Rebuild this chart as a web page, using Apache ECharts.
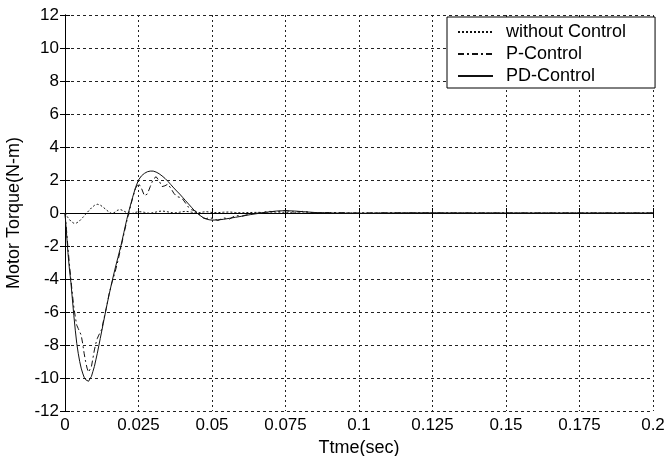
<!DOCTYPE html>
<html>
<head>
<meta charset="utf-8">
<script src="https://cdn.jsdelivr.net/npm/echarts@6/dist/echarts.min.js"></script>
<style>html,body{margin:0;padding:0;background:#fff}#c{width:670px;height:456px}</style>
</head>
<body>
<div id="c"></div>
<script>
var time = [0,0.0005,0.001,0.0015,0.002,0.0025,0.003,0.0035,0.004,0.0045,0.005,0.0055,0.006,0.0065,0.007,0.0075,0.008,0.0085,0.009,0.0095,0.010,0.0105,0.011,0.0115,0.012,0.0125,0.013,
0.014,0.015,0.016,0.017,0.018,0.019,0.020,0.021,0.022,0.023,0.024,0.025,0.026,0.027,0.028,0.029,0.030,0.031,0.032,0.033,0.034,0.035,0.036,0.037,0.038,0.039,0.040,0.041,0.042,0.043,0.044,0.045,0.046,0.047,0.048,0.049,0.050,
0.052,0.054,0.056,0.058,0.060,0.063,0.066,0.069,0.072,0.075,0.078,0.081,0.085,0.09,0.1,0.11,0.12,0.14,0.16,0.18,0.2];

var withoutControl = [0,-0.15,-0.28,-0.4,-0.5,-0.57,-0.62,-0.63,-0.6,-0.55,-0.47,-0.38,-0.28,-0.18,-0.08,0.02,0.12,0.22,0.31,0.39,0.46,0.51,0.53,0.52,0.48,0.42,0.35,
0.2,0.05,-0.04,0.05,0.18,0.2,0.12,0.02,-0.05,-0.02,0.04,0.08,0.07,0.04,0.0,-0.02,0.02,0.06,0.1,0.12,0.1,0.07,0.03,0.0,0.02,0.05,0.08,0.1,0.08,0.05,0.02,0.0,0.03,0.06,0.08,0.06,0.03,
0.02,0.05,0.06,0.03,0.01,0.03,0.04,0.01,0.0,0.02,0.01,0.0,0.01,0.0,0.0,0.0,0.0,0.0,0.0,0.0,0.0];

var pControl = [0,-1.0,-2.1,-3.1,-4.0,-4.9,-5.7,-6.3,-6.8,-7.0,-7.1,-7.4,-7.9,-8.5,-9.0,-9.4,-9.65,-9.6,-9.3,-8.8,-8.3,-7.9,-7.6,-7.4,-7.3,-7.05,-6.6,
-5.8,-4.9,-4.2,-3.6,-2.9,-2.1,-1.3,-0.5,0.2,0.9,1.5,1.8,1.5,1.05,1.15,1.6,2.05,2.2,1.95,1.6,1.65,1.75,1.5,1.2,1.0,0.95,0.85,0.6,0.35,0.2,0.15,0.05,-0.15,-0.3,-0.35,-0.28,-0.32,
-0.45,-0.3,-0.36,-0.15,-0.2,-0.05,0.0,0.1,0.08,0.15,0.05,0.1,0.0,0.03,0.0,0.01,0.0,0.0,0.0,0.0,0.0];

var pdControl = [0,-1.2,-2.4,-3.4,-4.2,-5.2,-6.2,-7.1,-7.9,-8.5,-9.0,-9.4,-9.7,-9.95,-10.1,-10.2,-10.2,-10.1,-9.9,-9.6,-9.3,-8.9,-8.5,-8.05,-7.6,-7.15,-6.7,
-5.8,-4.95,-4.15,-3.4,-2.7,-2.0,-1.2,-0.4,0.3,0.95,1.55,2.0,2.25,2.4,2.5,2.54,2.54,2.48,2.38,2.25,2.1,1.92,1.72,1.52,1.33,1.15,0.95,0.75,0.55,0.35,0.15,-0.02,-0.16,-0.28,-0.36,-0.41,-0.43,
-0.42,-0.38,-0.32,-0.26,-0.2,-0.1,-0.02,0.06,0.12,0.14,0.12,0.08,0.03,0.0,-0.02,0.0,0.01,0.0,0.0,0.0,0.0];

var xTicks = ['0','0.025','0.05','0.075','0.1','0.125','0.15','0.175','0.2'];
var yTicks = ['-12','-10','-8','-6','-4','-2','0','2','4','6','8','10','12'];

function pairs(ys){
  var n = Math.min(time.length, ys.length), out = [];
  for (var i = 0; i < n; i++) out.push([time[i], ys[i]]);
  return out;
}

var FONT = 'Liberation Sans, Arial, sans-serif';
var chart = echarts.init(document.getElementById('c'), null, {renderer:'canvas'});
var axisLine = {show:true, lineStyle:{color:'#000', width:1}};
var tick = {show:true, inside:true, length:5, lineStyle:{color:'#000'}};
chart.setOption({
  animation:false,
  backgroundColor:'#fff',
  grid:{left:65, right:17, top:15, bottom:45, containLabel:false, outerBoundsMode:'none'},
  legend:{
    orient:'vertical', left:447, top:17,
    padding:[6,29,3,10], itemGap:4, itemWidth:35, itemHeight:14,
    backgroundColor:'#fff', borderColor:'#000', borderWidth:1,
    itemStyle:{opacity:0},
    textStyle:{fontFamily:FONT, fontSize:18, color:'#000', padding:[0,0,0,8]},
    data:['without Control','P-Control','PD-Control']
  },
  xAxis:[{
    type:'value', min:0, max:0.2, interval:0.025,
    name:'Ttme(sec)', nameLocation:'middle', nameGap:23,
    nameTextStyle:{fontFamily:FONT, fontSize:18, color:'#000'},
    axisLine:axisLine, axisTick:tick,
    axisLabel:{fontFamily:FONT, fontSize:17, color:'#000', margin:6,
      formatter:function(v){ var i = Math.round(v/0.025); return xTicks[i]; }},
    splitLine:{show:true, lineStyle:{color:'#222', type:[2,3], width:1}}
  },{
    type:'value', min:0, max:0.2, interval:0.025, position:'top',
    axisLine:axisLine, axisTick:tick, axisLabel:{show:false}, splitLine:{show:false}
  }],
  yAxis:[{
    type:'value', min:-12, max:12, interval:2,
    name:'Motor Torque(N-m)', nameLocation:'middle', nameGap:37,
    nameTextStyle:{fontFamily:FONT, fontSize:18, color:'#000'},
    axisLine:axisLine, axisTick:tick,
    axisLabel:{fontFamily:FONT, fontSize:17, color:'#000', margin:6,
      formatter:function(v){ var i = Math.round((v+12)/2); return yTicks[i]; }},
    splitLine:{show:true, lineStyle:{color:'#222', type:[3,3], width:1}}
  },{
    type:'value', min:-12, max:12, interval:2, position:'right',
    axisLine:axisLine, axisTick:tick, axisLabel:{show:false}, splitLine:{show:false}
  }],
  series:[
    {name:'without Control', type:'line', data:pairs(withoutControl), showSymbol:false, symbol:'none',
     lineStyle:{color:'#111', width:1, type:[2,2]}, itemStyle:{color:'#111'}},
    {name:'P-Control', type:'line', data:pairs(pControl), showSymbol:false, symbol:'none',
     lineStyle:{color:'#111', width:1, type:[6,3,2,3]}, itemStyle:{color:'#111'}},
    {name:'PD-Control', type:'line', data:pairs(pdControl), showSymbol:false, symbol:'none',
     lineStyle:{color:'#111', width:1, type:'solid'}, itemStyle:{color:'#111'}}
  ]
});
</script>
</body>
</html>
